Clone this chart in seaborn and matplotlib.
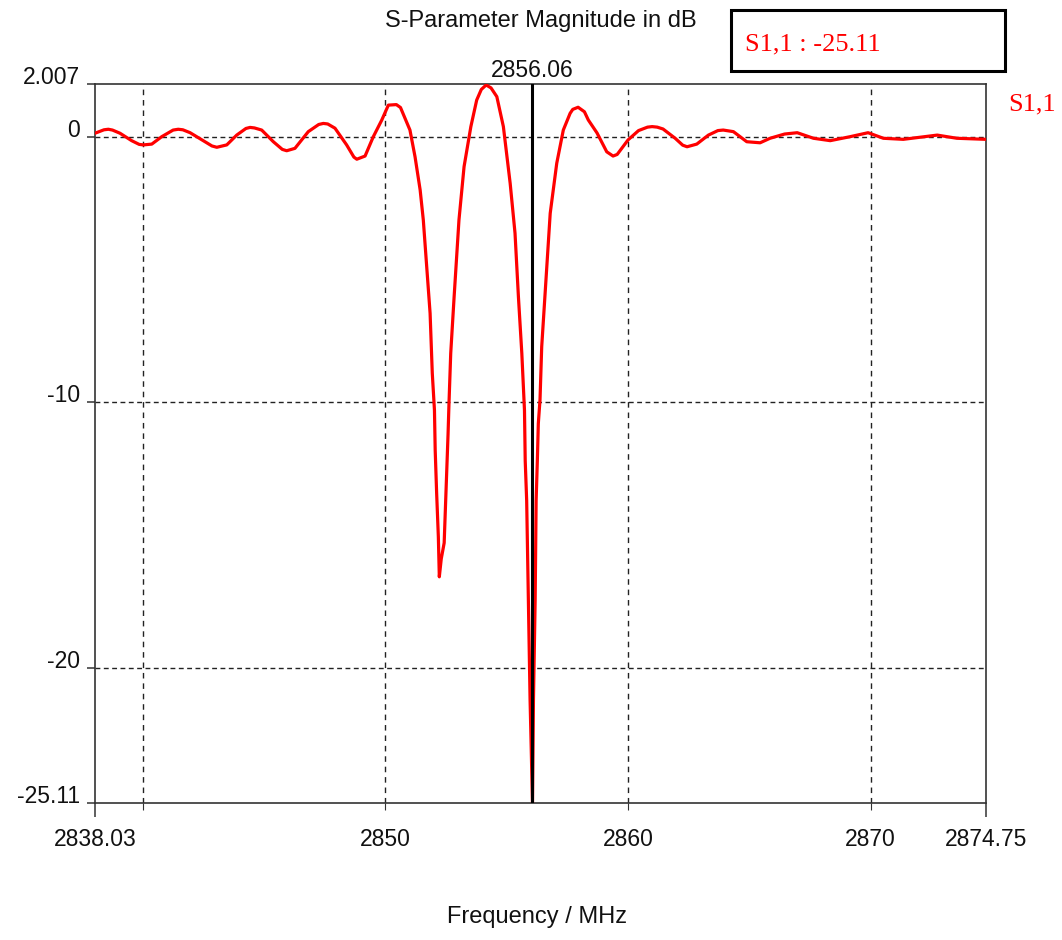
import numpy as np
import pandas as pd
import matplotlib
matplotlib.use("Agg")
import matplotlib.pyplot as plt
from matplotlib.patches import Rectangle
import seaborn as sns

# ---------------- data ----------------
freq_mhz = [
    2838.03, 2838.40, 2838.58, 2838.75, 2839.06, 2839.54, 2839.85, 2840.02,
    2840.37, 2840.78, 2841.25, 2841.46, 2841.65, 2841.95, 2842.49, 2842.85,
    2843.05, 2843.46, 2843.87, 2844.25, 2844.42, 2844.60, 2844.90, 2845.38,
    2845.75, 2845.93, 2846.27, 2846.82, 2847.25, 2847.44, 2847.62, 2847.92,
    2848.40, 2848.70, 2848.82, 2849.16, 2849.50, 2849.85, 2850.12, 2850.45,
    2850.62, 2851.01, 2851.22, 2851.43, 2851.56, 2851.70, 2851.84, 2851.93,
    2852.02, 2852.05, 2852.11, 2852.18, 2852.22, 2852.30, 2852.42, 2852.50,
    2852.58, 2852.62, 2852.69, 2852.83, 2853.03, 2853.24, 2853.52, 2853.76,
    2853.95, 2854.15, 2854.35, 2854.59, 2854.86, 2855.14, 2855.34, 2855.48,
    2855.62, 2855.73, 2855.76, 2855.82, 2855.89, 2855.96, 2856.06, 2856.10,
    2856.17, 2856.21, 2856.26, 2856.30, 2856.37, 2856.44, 2856.58, 2856.79,
    2857.06, 2857.33, 2857.61, 2857.72, 2857.94, 2858.20, 2858.36, 2858.72,
    2859.12, 2859.38, 2859.55, 2860.00, 2860.43, 2860.80, 2860.99, 2861.20,
    2861.44, 2861.94, 2862.25, 2862.43, 2862.83, 2863.31, 2863.70, 2863.92,
    2864.34, 2864.89, 2865.44, 2865.85, 2866.45, 2866.97, 2867.64, 2868.33,
    2869.15, 2869.89, 2870.52, 2871.34, 2872.05, 2872.74, 2873.55, 2874.75,
]
s11_db = [
    0.15, 0.28, 0.30, 0.27, 0.15, -0.13, -0.27, -0.29,
    -0.26, 0.02, 0.27, 0.30, 0.28, 0.17, -0.13, -0.33,
    -0.38, -0.29, 0.08, 0.33, 0.37, 0.35, 0.27, -0.17,
    -0.46, -0.51, -0.42, 0.21, 0.48, 0.52, 0.50, 0.34,
    -0.29, -0.75, -0.83, -0.71, 0.02, 0.65, 1.21, 1.23,
    1.12, 0.27, -0.74, -1.99, -3.12, -4.88, -6.64, -8.90,
    -10.30, -11.80, -13.43, -15.07, -16.58, -15.90, -15.30, -13.30,
    -11.20, -10.00, -8.15, -6.02, -3.12, -1.11, 0.40, 1.40,
    1.80, 1.97, 1.86, 1.53, 0.40, -1.74, -3.62, -6.02,
    -8.15, -10.30, -12.20, -13.70, -17.46, -21.20, -25.11, -21.20,
    -17.46, -13.70, -12.20, -10.80, -9.90, -7.90, -5.89, -2.87,
    -0.98, 0.27, 0.90, 1.05, 1.13, 0.96, 0.65, 0.16,
    -0.55, -0.71, -0.65, -0.10, 0.25, 0.38, 0.40, 0.38,
    0.31, -0.04, -0.30, -0.36, -0.26, 0.08, 0.25, 0.27,
    0.21, -0.17, -0.21, -0.04, 0.12, 0.17, -0.04, -0.13,
    0.02, 0.17, -0.04, -0.08, 0.00, 0.08, -0.04, -0.08,
]
x_ticks = [2838.03, 2840, 2850, 2860, 2870, 2874.75]
x_tick_labels = ["2838.03", "", "2850", "2860", "2870", "2874.75"]
x_grid = [2840, 2850, 2860, 2870]
y_ticks = [2.007, 0, -10, -20, -25.11]
y_tick_labels = ["2.007", "0", "-10", "-20", "-25.11"]
y_grid = [0, -10, -20]
marker_freq = 2856.06
marker_label = "2856.06"
marker_value = -25.11
series_name = "S1,1"
title = "S-Parameter Magnitude in dB"
x_label = "Frequency / MHz"

df = pd.DataFrame({"Frequency": freq_mhz, "S11": s11_db})

# ---------------- style ----------------
sns.set_theme(style="white")
plt.rcParams["font.family"] = ["Liberation Sans", "DejaVu Sans"]

W, H = 1062, 940
fig = plt.figure(figsize=(W / 100, H / 100), dpi=100, facecolor="white")
L, R, T, B = 95, 986, 84, 803
ax = fig.add_axes([L / W, 1 - B / H, (R - L) / W, (B - T) / H])
ax.set_facecolor("white")

# gridlines
for gx in x_grid:
    ax.axvline(gx, color="#222222", lw=1.0, ls=(0, (4, 3.5)), zorder=1)
for gy in y_grid:
    ax.axhline(gy, color="#222222", lw=1.0, ls=(0, (3.5, 2.5)), zorder=1)

sns.lineplot(data=df, x="Frequency", y="S11", ax=ax, color="#ff0000",
             linewidth=2.3, sort=False, estimator=None, legend=False, zorder=3)
for ln in ax.get_lines():
    ln.set_solid_joinstyle("round")

ax.axvline(marker_freq, color="black", lw=2.2, zorder=4)

ax.set_xlim(freq_mhz[0], freq_mhz[-1])
ax.set_ylim(y_ticks[-1], y_ticks[0])

ax.set_xticks(x_ticks)
ax.set_xticklabels(x_tick_labels, fontsize=16.5, color="#111111")
ax.set_yticks(y_ticks)
ax.set_yticklabels(y_tick_labels, fontsize=16.5, color="#111111")
ax.tick_params(axis="x", bottom=True, direction="out", length=10, width=1.1,
               color="#333333", pad=8)
ax.tick_params(axis="y", left=True, direction="out", length=6, width=1.1,
               color="#333333", pad=5)
for i, t in enumerate(ax.xaxis.get_major_ticks()):
    if 0 < i < len(x_ticks) - 1:
        t.tick1line.set_markersize(5)
        t.tick1line.set_markeredgewidth(0.8)
for lab in ax.get_yticklabels():
    lab.set_va("baseline")

ax.set_xlabel("")
ax.set_ylabel("")
for s in ax.spines.values():
    s.set_visible(True)
    s.set_color("#333333")
    s.set_linewidth(1.2)

# marker label above plot
ax.annotate(marker_label, xy=(marker_freq, y_ticks[0]), xytext=(0, 5),
            textcoords="offset points", ha="center", va="baseline",
            fontsize=16.5, color="#111111", annotation_clip=False)

# title and x label
fig.text((L + R) / 2 / W, 1 - 27 / H, title, ha="center", va="baseline",
         fontsize=17, color="#111111")
fig.text(537 / W, 1 - 923 / H, x_label, ha="center", va="baseline",
         fontsize=17, color="#111111")

# marker readout box
fig.patches.append(Rectangle((731 / W, 1 - 71 / H), (1005 - 731) / W, (71 - 10) / H,
                             transform=fig.transFigure, fill=False,
                             edgecolor="black", linewidth=2.2))
fig.text(745 / W, 1 - 50 / H, f"{series_name} : {marker_value:.2f}",
         ha="left", va="baseline", fontsize=19, color="#ff0000",
         family=["Liberation Serif", "DejaVu Serif"])
fig.text(1008 / W, 1 - 110 / H, series_name, ha="left", va="baseline",
         fontsize=19, color="#ff0000", family=["Liberation Serif", "DejaVu Serif"])

fig.savefig("out.png", dpi=100, facecolor="white")
